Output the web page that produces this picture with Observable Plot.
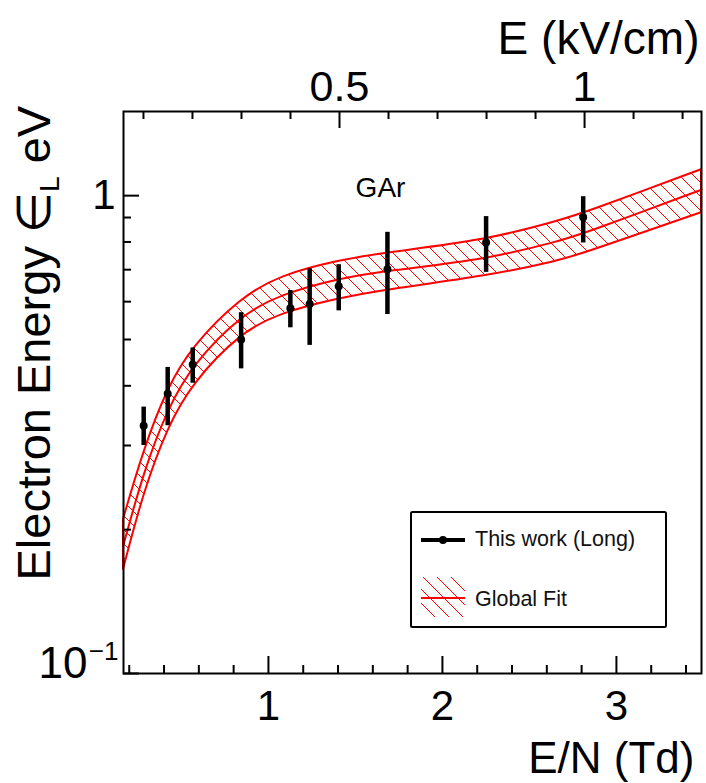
<!DOCTYPE html>
<html><head><meta charset="utf-8">
<script src="https://cdn.jsdelivr.net/npm/d3@7"></script>
<script src="https://cdn.jsdelivr.net/npm/@observablehq/plot@0.6"></script>
<style>
html,body{margin:0;padding:0;background:#fff;}
#chart svg{display:block;}
</style>
</head><body><div id="chart"></div>
<script>
// ---- data: "This work (Long)" measurements ----
const EN      = [0.283, 0.421, 0.565, 0.843, 1.126, 1.237, 1.404, 1.684, 2.251, 2.809];
const energy  = [0.330, 0.385, 0.443, 0.500, 0.581, 0.593, 0.646, 0.701, 0.798, 0.901];
const errLow  = [0.300, 0.330, 0.405, 0.434, 0.529, 0.486, 0.574, 0.564, 0.691, 0.796];
const errHigh = [0.361, 0.437, 0.480, 0.569, 0.633, 0.703, 0.717, 0.838, 0.904, 0.995];

// ---- data: Global Fit band ----
const fitEN    = [0.167, 0.283, 0.420, 0.563, 0.845, 1.069, 1.402, 1.684, 2.253, 2.678, 2.810, 3.489];
const fitUpper = [0.210, 0.293, 0.395, 0.483, 0.612, 0.680, 0.731, 0.760, 0.805, 0.887, 0.917, 1.133];
const fitMid   = [0.186, 0.265, 0.358, 0.443, 0.564, 0.621, 0.671, 0.697, 0.735, 0.805, 0.833, 1.029];
const fitLower = [0.165, 0.239, 0.326, 0.404, 0.517, 0.567, 0.609, 0.636, 0.677, 0.731, 0.756, 0.921];

// ---- ticks ----
const xMajor = [1, 2, 3];
const xMinor = [0.2, 0.4, 0.6, 0.8, 1.2, 1.4, 1.6, 1.8, 2.2, 2.4, 2.6, 2.8, 3.2, 3.4];
const topMajorE = [0.5, 1];
const topMinorE = [0.1, 0.2, 0.3, 0.4, 0.6, 0.7, 0.8, 0.9, 1.1, 1.2];
const kVperTd = 0.355; // E (kV/cm) per E/N (Td) at the gas density used
const yMajor = [0.1, 1];
const yMinor = [0.2, 0.3, 0.4, 0.5, 0.6, 0.7, 0.8, 0.9];
const xDomain = [0.167, 3.489];
const yDomain = [0.1, 1.5];

// ---- texts ----
const xTitle = "E/N (Td)";
const topTitle = "E (kV/cm)";
const yTitle = "Electron Energy ∈L eV";
const annotation = "GAr";
const legendLabels = ["This work (Long)", "Global Fit"];

const W = 706, H = 783, mL = 123, mR = 5, mT = 111, mB = 110;
const iw = W - mL - mR, ih = H - mT - mB;
const FONT = "Liberation Sans, Arial, Helvetica, sans-serif";

const points = EN.map((x, i) => ({x, y: energy[i], lo: errLow[i], hi: errHigh[i]}));
const band = fitEN.map((x, i) => ({x, up: fitUpper[i], mid: fitMid[i], low: fitLower[i]}));

const tickSty = {stroke: "black", strokeWidth: 2};
const txt = {fill: "black", lineAnchor: "middle"};
const svg = Plot.plot({
  width: W, height: H,
  marginLeft: mL, marginRight: mR, marginTop: mT, marginBottom: mB,
  style: {fontFamily: FONT, background: "white", color: "black", overflow: "visible"},
  x: {type: "linear", domain: xDomain, axis: null},
  y: {type: "log", domain: yDomain, axis: null},
  marks: [
    Plot.areaY(band, {x: "x", y1: "low", y2: "up", fill: "url(#hatch)", stroke: "#ff0000", strokeWidth: 2, curve: "basis"}),
    Plot.line(band, {x: "x", y: "mid", stroke: "#ff0000", strokeWidth: 2, curve: "basis"}),
    Plot.ruleX(points, {x: "x", y1: "lo", y2: "hi", stroke: "black", strokeWidth: 4.5}),
    Plot.dot(points, {x: "x", y: "y", r: 4, fill: "black", stroke: "none"}),
    // ticks (inward, ROOT style)
    Plot.ruleX(xMajor, {x: d => d, insetTop: ih - 17, ...tickSty}),
    Plot.ruleX(xMinor, {x: d => d, insetTop: ih - 8, ...tickSty}),
    Plot.ruleX(topMajorE, {x: d => d / kVperTd, insetBottom: ih - 17, ...tickSty}),
    Plot.ruleX(topMinorE, {x: d => d / kVperTd, insetBottom: ih - 8, ...tickSty}),
    Plot.ruleY(yMajor, {y: d => d, insetRight: iw - 16, ...tickSty}),
    Plot.ruleY(yMinor, {y: d => d, insetRight: iw - 8, ...tickSty}),
    Plot.frame({stroke: "black", strokeWidth: 2}),
    // tick labels
    Plot.text(xMajor, {x: d => d, frameAnchor: "bottom", dy: 33, textAnchor: "middle", text: d => String(d), fontSize: 42, ...txt}),
    Plot.text(topMajorE, {x: d => d / kVperTd, frameAnchor: "top", dy: -24, textAnchor: "middle", text: d => String(d), fontSize: 43, ...txt}),
    Plot.text([1], {y: d => d, frameAnchor: "left", dx: -8, textAnchor: "end", text: d => "1", fontSize: 42, ...txt}),
    Plot.text([0.1], {y: d => d, frameAnchor: "left", dx: -36, dy: -10, textAnchor: "end", text: d => "10", fontSize: 44, ...txt}),
    Plot.text([0.1], {y: d => d, frameAnchor: "left", dx: -5, dy: -22, textAnchor: "end", text: d => "−1", fontSize: 26, ...txt}),
    // titles
    Plot.text([xTitle], {frameAnchor: "bottom-right", dx: -7, dy: 85, textAnchor: "end", text: d => d, fontSize: 44, ...txt}),
    Plot.text([topTitle], {frameAnchor: "top-right", dx: -2, dy: -72, textAnchor: "end", text: d => d, fontSize: 46, ...txt}),
    Plot.text([yTitle], {frameAnchor: "bottom-left", dx: -89, dy: -93, rotate: -90, textAnchor: "start", text: d => d, fontSize: 47, ...txt}),
    Plot.text([annotation], {frameAnchor: "top-left", dx: 257, dy: 77, textAnchor: "middle", text: d => d, fontSize: 28, ...txt})
  ]
});

// hatch pattern definition
const s = d3.select(svg);
const defs = s.insert("defs", ":first-child");
const pat = defs.append("pattern").attr("id", "hatch").attr("patternUnits", "userSpaceOnUse")
  .attr("width", 14).attr("height", 14);
pat.append("path").attr("d", "M0,0L14,14M-7,7L7,21M7,-7L21,7")
  .attr("stroke", "#ff0000").attr("stroke-width", 1).attr("fill", "none");

// subscript in the y title
s.selectAll("text").filter(function() { return this.textContent === yTitle; }).each(function() {
  const t = d3.select(this);
  t.text(null);
  t.append("tspan").text("Electron Energy ∈");
  t.append("tspan").attr("font-size", "60%").attr("dy", "0.35em").text("L");
  t.append("tspan").attr("dy", "-0.21em").text(" eV");
});

// legend
const lg = s.append("g").attr("font-family", FONT).attr("text-anchor", "start");
lg.append("rect").attr("x", 411).attr("y", 512).attr("width", 255).attr("height", 115)
  .attr("rx", 1.5).attr("fill", "white").attr("stroke", "black").attr("stroke-width", 2);
lg.append("line").attr("x1", 421).attr("x2", 465).attr("y1", 540).attr("y2", 540)
  .attr("stroke", "black").attr("stroke-width", 4);
lg.append("circle").attr("cx", 443).attr("cy", 540).attr("r", 4).attr("fill", "black");
lg.append("text").attr("x", 475).attr("y", 546).attr("font-size", 21.5).attr("fill", "#111").attr("text-anchor", "start").text(legendLabels[0]);
lg.append("rect").attr("x", 421).attr("y", 577).attr("width", 44).attr("height", 40).attr("fill", "url(#hatch)");
lg.append("line").attr("x1", 421).attr("x2", 465).attr("y1", 598).attr("y2", 598)
  .attr("stroke", "#ff0000").attr("stroke-width", 2);
lg.append("text").attr("x", 475).attr("y", 606).attr("font-size", 21.5).attr("fill", "#111").attr("text-anchor", "start").text(legendLabels[1]);

document.getElementById("chart").appendChild(svg);
</script>
</body></html>
